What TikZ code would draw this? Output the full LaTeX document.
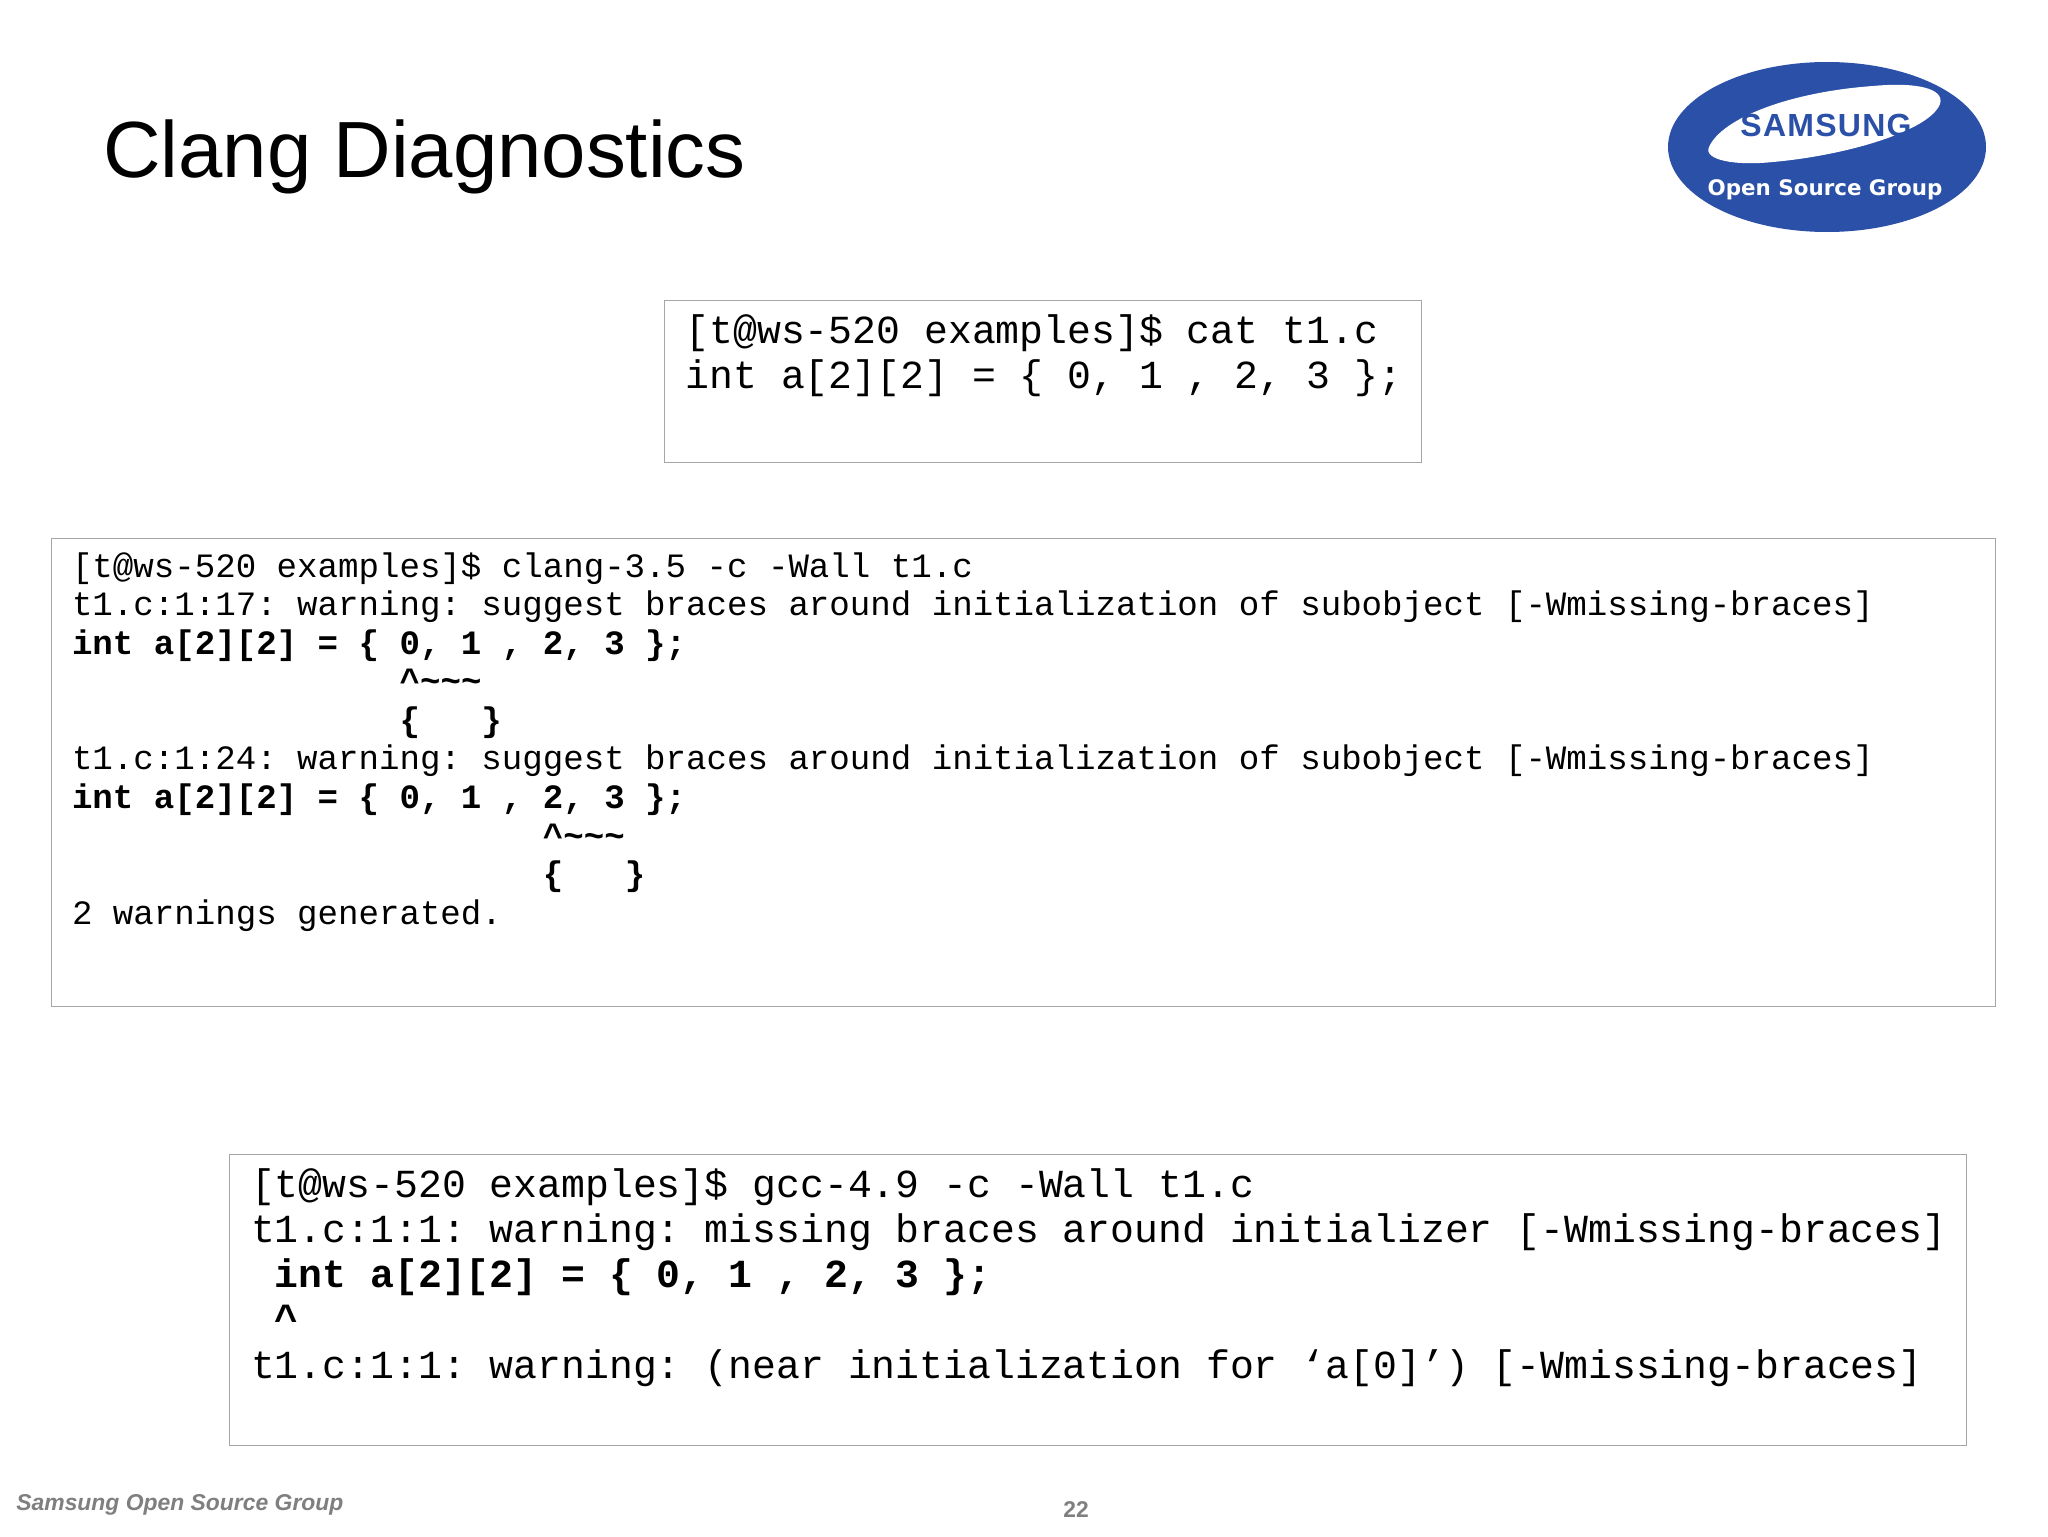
\documentclass[tikz,border=0pt]{standalone}
\usepackage{fontspec}
\usetikzlibrary{shapes.geometric}
\setmainfont{Liberation Sans}
\setmonofont{Liberation Mono}
\newfontfamily\logofont[LetterSpace=4]{Liberation Sans}
\newfontfamily\opensrcfont{DejaVu Sans}
\definecolor{logoblue}{HTML}{2B50A8}
\definecolor{boxgray}{HTML}{A6A6A6}
\definecolor{footgray}{HTML}{7F7F7F}
\newcommand{\cir}{\textasciicircum}
\newcommand{\til}{\textasciitilde}
\tikzset{
  termbox/.style={draw=boxgray,line width=0.7pt,fill=white,inner sep=0pt,anchor=north west},
  bigterm/.style={anchor=north west,inner sep=0pt,align=left,font=\ttfamily\fontsize{19.9}{22.6}\selectfont},
  smallterm/.style={anchor=north west,inner sep=0pt,align=left,font=\ttfamily\fontsize{17.06}{19.27}\selectfont},
  foot/.style={inner sep=0pt,text=footgray,font=\bfseries\fontsize{11.4}{13}\selectfont,anchor=base west},
}
\begin{document}
\begin{tikzpicture}[x=0.5pt,y=-0.5pt]
\useasboundingbox (0,0) rectangle (2048,1536);
\node[anchor=base west,inner sep=0pt,font=\fontsize{39.85}{46}\selectfont] (title) at (103,177) {Clang Diagnostics};
% logo
\coordinate (lc) at (1827,147);
\node[draw=none,fill=logoblue,ellipse,inner sep=0pt,minimum width=159pt,minimum height=85pt] (logo) at (lc) {};
\fill[white] (1709,147) .. controls (1722,118) and (1790,92) .. (1873,86)
  .. controls (1915,82) and (1945,88) .. (1940,104)
  .. controls (1930,130) and (1850,155) .. (1773,162)
  .. controls (1735,166) and (1703,160) .. (1709,147) -- cycle;
\node[inner sep=0pt,anchor=base,text=logoblue,font=\logofont\bfseries\fontsize{16}{17}\selectfont] (logoname) at (1826,136) {SAMSUNG};
\node[inner sep=0pt,anchor=base,text=white,font=\opensrcfont\bfseries\fontsize{10.7}{13}\selectfont] (logosub) at (1825,195) {Open Source Group};
% boxes
\node[termbox,minimum width=378.5pt,minimum height=81pt] (b1) at (663.5,299.5) {};
\node[bigterm] (t1) at ([xshift=10.8pt,yshift=-7.3pt]b1.north west) {[t@ws-520 examples]\$ cat t1.c\\int a[2][2] = \{ 0, 1 , 2, 3 \};};
\node[termbox,minimum width=972pt,minimum height=234pt] (b2) at (51,537.5) {};
\node[smallterm] (t2) at ([xshift=10.3pt,yshift=-7.3pt]b2.north west) {[t@ws-520 examples]\$ clang-3.5 -c -Wall t1.c\\
t1.c:1:17: warning: suggest braces around initialization of subobject [-Wmissing-braces]\\
\textbf{int a[2][2] = \{ 0, 1 , 2, 3 \};}\\
\textbf{~~~~~~~~~~~~~~~~\cir\til\til\til}\\
\textbf{~~~~~~~~~~~~~~~~\{~~~\}}\\
t1.c:1:24: warning: suggest braces around initialization of subobject [-Wmissing-braces]\\
\textbf{int a[2][2] = \{ 0, 1 , 2, 3 \};}\\
\textbf{~~~~~~~~~~~~~~~~~~~~~~~\cir\til\til\til}\\
\textbf{~~~~~~~~~~~~~~~~~~~~~~~\{~~~\}}\\
2 warnings generated.};
\node[termbox,minimum width=868.5pt,minimum height=145.5pt] (b3) at (229,1153.5) {};
\node[bigterm] (t3) at ([xshift=10.8pt,yshift=-7.3pt]b3.north west) {[t@ws-520 examples]\$ gcc-4.9 -c -Wall t1.c\\
t1.c:1:1: warning: missing braces around initializer [-Wmissing-braces]\\
\textbf{~int a[2][2] = \{ 0, 1 , 2, 3 \};}\\
\textbf{~\cir}\\
t1.c:1:1: warning: (near initialization for ‘a[0]’) [-Wmissing-braces]};
% footer
\node[foot,font=\bfseries\itshape\fontsize{11.45}{13}\selectfont] (footer) at (16,1510) {Samsung Open Source Group};
\node[foot,anchor=base] (page) at (1076,1517) {22};
\end{tikzpicture}
\end{document}
